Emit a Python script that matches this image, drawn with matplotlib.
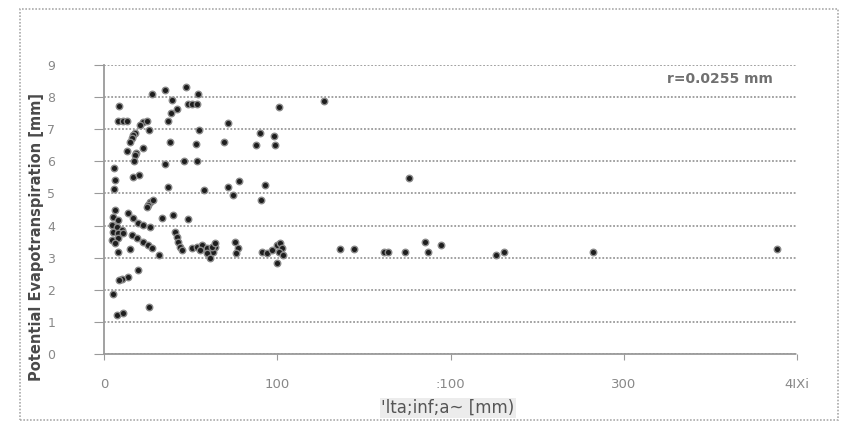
import numpy as np
import matplotlib.pyplot as plt
from matplotlib.patches import Rectangle

# rainfall (x) vs potential evapotranspiration (y)
rain = [27.6, 35.3, 47.4, 54.2, 39.1, 48.2, 50.7, 53.6, 42.4, 38.6,
        37.2, 8.7, 8.3, 10.8, 13.5, 22.7, 24.7, 20.8, 26.2, 54.9,
        17.9, 16.9, 16.0, 15.0, 38.2, 53.2, 13.1, 18.5, 17.9, 22.7,
        17.5, 35.3, 46.2, 53.9, 5.8, 6.4, 16.6, 20.4, 5.8, 37.2,
        58.0, 26.6, 25.6, 24.7, 28.5, 126.8, 100.8, 71.3, 89.8, 97.9,
        69.4, 87.9, 98.8, 78.0, 71.8, 74.7, 93.1, 90.8, 176.3, 136.4,
        144.1, 161.4, 163.8, 174.0, 185.0, 186.9, 194.6, 226.4, 230.8, 282.3,
        388.4, 64.2, 62.8, 75.7, 77.6, 76.3, 91.2, 94.0, 96.9, 99.8,
        101.7, 102.7, 100.8, 103.6, 99.8, 6.4, 5.4, 8.3, 4.5, 7.3,
        10.2, 5.4, 8.3, 11.2, 4.5, 8.3, 6.4, 14.0, 16.9, 19.8,
        22.7, 26.6, 16.0, 18.9, 22.7, 25.6, 27.6, 8.3, 15.0, 32.0,
        33.4, 40.1, 48.2, 41.0, 42.0, 42.9, 43.9, 44.9, 50.7, 53.6,
        56.5, 59.4, 62.3, 55.5, 59.4, 61.3, 64.2, 19.8, 14.0, 10.2,
        8.8, 5.4, 26.2, 7.3, 11.2]
pet = [8.10, 8.22, 8.31, 8.10, 7.91, 7.79, 7.79, 7.79, 7.62, 7.50,
       7.27, 7.73, 7.27, 7.27, 7.27, 7.23, 7.27, 7.13, 6.98, 6.98,
       6.88, 6.82, 6.72, 6.61, 6.60, 6.53, 6.32, 6.27, 6.20, 6.40,
       6.00, 5.92, 6.01, 6.01, 5.79, 5.42, 5.50, 5.58, 5.13, 5.19,
       5.11, 4.74, 4.64, 4.59, 4.80, 7.89, 7.69, 7.19, 6.89, 6.80,
       6.60, 6.50, 6.50, 5.40, 5.19, 4.95, 5.26, 4.80, 5.47, 3.26,
       3.27, 3.19, 3.19, 3.19, 3.48, 3.19, 3.39, 3.07, 3.19, 3.19,
       3.27, 3.34, 3.19, 3.50, 3.29, 3.14, 3.19, 3.14, 3.24, 3.40,
       3.45, 3.29, 3.19, 3.08, 2.83, 4.49, 4.28, 4.17, 4.02, 3.97,
       3.86, 3.81, 3.76, 3.76, 3.55, 3.60, 3.45, 4.38, 4.23, 4.07,
       4.02, 3.97, 3.71, 3.60, 3.50, 3.40, 3.29, 3.19, 3.26, 3.08,
       4.23, 4.33, 4.20, 3.81, 3.65, 3.50, 3.34, 3.24, 3.29, 3.34,
       3.40, 3.29, 3.34, 3.24, 3.14, 2.98, 3.45, 2.62, 2.39, 2.33,
       2.31, 1.87, 1.47, 1.21, 1.27]

xticks = [0, 100, 200, 300, 400]
xtick_labels = ['0', '100', ':100', '300', '4IXi']
yticks = list(range(0, 10))

fig = plt.figure(figsize=(8.48, 4.22), dpi=100)
ax = fig.add_axes([104/848, 1-354/422, (797-104)/848, (354-65)/422])

grey = '#9a9a9a'
ax.set_xlim(0, 400)
ax.set_ylim(0, 9)
for s in ['top', 'right']:
    ax.spines[s].set_visible(False)
for s in ['left', 'bottom']:
    ax.spines[s].set_color(grey)
    ax.spines[s].set_linestyle((0, (1, 1)))
    ax.spines[s].set_linewidth(1.3)

ax.yaxis.grid(True, color=grey, linestyle=(0, (1, 1)), linewidth=1.3)
ax.set_axisbelow(True)

ax.set_yticks(yticks)
ax.set_yticklabels([str(v) for v in yticks], color='#888888', fontsize=9)
ax.tick_params(axis='y', length=7, color=grey, pad=28)
ax.set_xticks(xticks)
ax.set_xticklabels(xtick_labels, color='#888888', fontsize=9.5)
ax.tick_params(axis='x', length=4, color=grey, pad=13)

ax.scatter(rain, pet, s=22, c='#1e1e1e', edgecolors='#8a8a8a', linewidths=1.0,
           zorder=3, clip_on=False)

ax.text(386, 8.55, 'r=0.0255 mm', ha='right', va='center', fontsize=10,
        color='#707070', fontweight='bold')

fig.text(37/848, 1-237/422, 'Potential Evapotranspiration [mm]', rotation=90,
         ha='center', va='center', fontsize=10.5, fontweight='bold', color='#4a4a4a')
fig.text(448/848, 1-408/422, "'lta;inf;a~ [mm)", ha='center', va='center',
         fontsize=12, color='#555555',
         bbox=dict(facecolor='#ececec', edgecolor='none', pad=1))

fig.patches.append(Rectangle((20/848, 1-420/422), (838-20)/848, (420-9)/422,
                             transform=fig.transFigure, fill=False,
                             edgecolor='#aaaaaa', linestyle=(0, (1, 1)), linewidth=1.2))

fig.savefig('out.png', dpi=100)
